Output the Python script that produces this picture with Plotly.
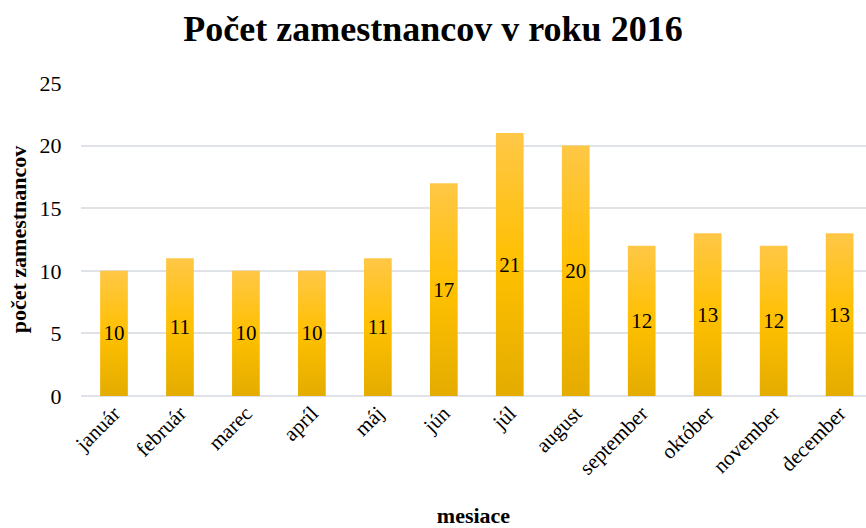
import plotly.graph_objects as go

months = ["január", "február", "marec", "apríl", "máj", "jún", "júl",
          "august", "september", "október", "november", "december"]
employees = [10, 11, 10, 10, 11, 17, 21, 20, 12, 13, 12, 13]
y_ticks = [0, 5, 10, 15, 20, 25]

FONT = "Liberation Serif"

fig = go.Figure(go.Bar(
    x=months, y=employees,
    marker=dict(color="#FFC000", line=dict(width=0)),
    text=[str(v) for v in employees],
    textposition="inside", insidetextanchor="middle",
    textfont=dict(family=FONT, size=21, color="black"),
    textangle=0,
    hoverinfo="skip",
))

fig.update_layout(
    width=866, height=528,
    margin=dict(l=81, r=0, t=83, b=132),
    paper_bgcolor="white", plot_bgcolor="white",
    bargap=0.58,
    showlegend=False,
    uniformtext=dict(minsize=21, mode="show"),
    title=dict(text="<b>Počet zamestnancov v roku 2016</b>",
               x=0.5, xanchor="center", y=0.947, yanchor="middle",
               font=dict(family=FONT, size=36, color="black")),
    font=dict(family=FONT, color="black"),
)
fig.update_xaxes(
    range=[-0.5, 11.4],
    tickangle=-45, tickfont=dict(family=FONT, size=21, color="black"),
    showgrid=False, showline=False, ticks="",
    title=dict(text="<b>mesiace</b>", font=dict(family=FONT, size=22, color="black"), standoff=32),
)
fig.update_yaxes(
    range=[0, 25], tickvals=y_ticks,
    tickfont=dict(family=FONT, size=22, color="black"),
    showgrid=True, gridcolor="#DFE2E7", gridwidth=2,
    zeroline=True, zerolinecolor="#DFE2E7", zerolinewidth=2,
    ticks="outside", ticklen=14, tickcolor="rgba(0,0,0,0)", showline=False,
    title=dict(text="<b>počet zamestnancov</b>", font=dict(family=FONT, size=22, color="black"), standoff=6),
)

post = """
document.body.style.margin = '0';
var gd = document.getElementById('{plot_id}');
function applyGrad(){
  var svg = gd.querySelector('.main-svg');
  if(!svg) return;
  var ns = 'http://www.w3.org/2000/svg';
  var defs = svg.querySelector('defs');
  if(!defs){ defs = document.createElementNS(ns,'defs'); svg.insertBefore(defs, svg.firstChild); }
  if(!document.getElementById('barGrad')){
    var lg = document.createElementNS(ns,'linearGradient');
    lg.setAttribute('id','barGrad');
    lg.setAttribute('x1','0'); lg.setAttribute('y1','0');
    lg.setAttribute('x2','0'); lg.setAttribute('y2','1');
    [['0','#FFC747'],['0.5','#FFC000'],['1','#E4AC00']].forEach(function(s){
      var st = document.createElementNS(ns,'stop');
      st.setAttribute('offset', s[0]); st.setAttribute('stop-color', s[1]);
      lg.appendChild(st);
    });
    defs.appendChild(lg);
  }
  gd.querySelectorAll('.trace.bars .point path').forEach(function(p){
    p.style.fill = 'url(#barGrad)';
  });
}
applyGrad();
gd.on('plotly_afterplot', applyGrad);
"""

fig.write_html("out.html", post_script=post, config={"displayModeBar": False})
